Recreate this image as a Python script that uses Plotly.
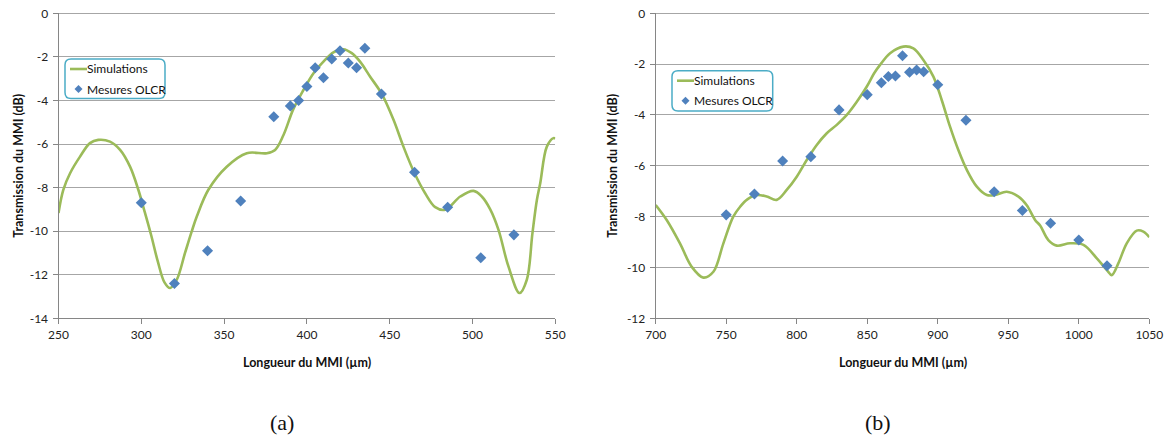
import plotly.graph_objects as go

W, H = 1169, 439

# ---------------- data: panel (a) ----------------
sim_a_x = [250, 252.9, 257, 263, 269, 274, 281.1, 287.2, 293.2, 298.2, 302, 306, 310, 314,
           317.4, 321.4, 326.4, 330.5, 333.5, 340.5, 351.6, 363.7, 375.8, 380.8, 385.8, 391.8,
           397.9, 404, 410, 416, 422, 427.1, 432.1, 438.2, 445.2, 452.3, 458.3, 464.8, 471.4,
           477.5, 483.5, 492.6, 500.6, 505.6, 510.7, 515.7, 521.7, 528.4, 532.8, 536.2, 538.9,
           540.9, 544.9, 548.9, 550]
sim_a_y = [-9.17, -8.1, -7.34, -6.58, -5.96, -5.81, -5.89, -6.27, -7.04, -8.1, -9.1, -10.2, -11.4,
           -12.35, -12.61, -12.23, -11.0, -10.0, -9.33, -8.1, -7.04, -6.42, -6.42, -6.27, -5.6,
           -4.4, -3.52, -2.75, -2.22, -1.79, -1.65, -1.83, -2.22, -2.91, -3.70, -4.89, -6.12,
           -7.31, -8.26, -8.90, -9.02, -8.41, -8.15, -8.41, -9.0, -9.94, -11.62, -12.84, -12.23,
           -10.09, -8.56, -7.8, -6.12, -5.73, -5.75]

mes_a_x = [300, 320, 340, 360, 380, 390, 395, 400, 405, 410, 415, 420, 425, 430, 435,
           445, 465, 485, 505, 525]
mes_a_y = [-8.7, -12.4, -10.9, -8.62, -4.75, -4.25, -4.0, -3.36, -2.5, -2.96, -2.1, -1.72,
           -2.28, -2.5, -1.6, -3.7, -7.3, -8.9, -11.22, -10.17]

# ---------------- data: panel (b) ----------------
sim_b_x = [700, 707.8, 717.2, 725.5, 733.8, 740.9, 748, 755, 760, 765, 771.6, 778.7, 785.8,
           792.9, 800, 807.1, 814.2, 821.3, 828.4, 835.5, 842.6, 849.6, 855, 859.1, 866.2, 875.6,
           882.7, 889.8, 896.9, 902.8, 908.7, 914.6, 920.6, 927.7, 934.8, 940.6, 948.9, 957.2,
           963.1, 969, 972.6, 978.4, 984.4, 993.8, 1003.3, 1012.8, 1019.9, 1023.4, 1028.1, 1034,
           1041.1, 1045.8, 1050]
sim_b_y = [-7.54, -8.13, -9.05, -9.97, -10.40, -10.17, -9.05, -8.0, -7.6, -7.32, -7.15, -7.21,
           -7.34, -6.95, -6.43, -5.77, -5.18, -4.72, -4.39, -4.0, -3.48, -2.89, -2.35, -2.03,
           -1.57, -1.31, -1.38, -1.84, -2.49, -3.41, -4.46, -5.38, -6.16, -6.82, -7.15, -7.15,
           -7.02, -7.21, -7.55, -8.13, -8.35, -8.92, -9.14, -9.05, -9.11, -9.64, -10.1, -10.3,
           -9.83, -9.05, -8.55, -8.59, -8.81]

mes_b_x = [750, 770, 790, 810, 830, 850, 860, 865, 870, 875, 880, 885, 890, 900, 920,
           940, 960, 980, 1000, 1020]
mes_b_y = [-7.93, -7.11, -5.81, -5.64, -3.8, -3.2, -2.73, -2.49, -2.47, -1.67, -2.32, -2.23,
           -2.3, -2.81, -4.21, -7.02, -7.76, -8.26, -8.92, -9.93]

# ---------------- ticks / labels ----------------
xticks_a = [250, 300, 350, 400, 450, 500, 550]
yticks_a = [0, -2, -4, -6, -8, -10, -12, -14]
xticks_b = [700, 750, 800, 850, 900, 950, 1000, 1050]
yticks_b = [0, -2, -4, -6, -8, -10, -12]

series_names = ["Simulations", "Mesures OLCR"]
y_title = "Transmission du MMI (dB)"
x_title = "Longueur du MMI (µm)"
panel_labels = ["(a)", "(b)"]

GREEN = "#9BBB59"
BLUE = "#4F81BD"
GRID = "#A6A6A6"
AXIS = "#868686"
LEGEND_BORDER = "#4BACC6"
FONT = "Lato"


def px(x):
    return x / W


def py(y):
    return 1 - y / H


# panel pixel boxes: left, right, top, bottom
box_a = (58.5, 555.3, 13.3, 318.3)
box_b = (655.7, 1149.3, 13.3, 318.3)

fig = go.Figure()

fig.add_trace(go.Scatter(x=sim_a_x, y=sim_a_y, mode="lines", name=series_names[0],
                         line=dict(color=GREEN, width=2.6, shape="spline", smoothing=1.0),
                         xaxis="x", yaxis="y", showlegend=False))
fig.add_trace(go.Scatter(x=mes_a_x, y=mes_a_y, mode="markers", name=series_names[1],
                         marker=dict(symbol="diamond", size=8.5, color=BLUE),
                         xaxis="x", yaxis="y", showlegend=False))
fig.add_trace(go.Scatter(x=sim_b_x, y=sim_b_y, mode="lines", name=series_names[0],
                         line=dict(color=GREEN, width=2.6, shape="spline", smoothing=1.0),
                         xaxis="x2", yaxis="y2", showlegend=False))
fig.add_trace(go.Scatter(x=mes_b_x, y=mes_b_y, mode="markers", name=series_names[1],
                         marker=dict(symbol="diamond", size=8.5, color=BLUE),
                         xaxis="x2", yaxis="y2", showlegend=False))

TICKFONT = dict(family=FONT, size=12, color="#222")


def xaxis_cfg(box, ticks, rng):
    return dict(domain=[px(box[0]), px(box[1])], range=rng, tickvals=ticks,
                ticktext=[str(t) for t in ticks], showgrid=False, zeroline=False,
                showline=True, linecolor=AXIS, linewidth=1, ticks="outside", ticklen=5,
                tickcolor=AXIS, tickfont=TICKFONT, fixedrange=True, automargin=False,
                ticklabeloverflow="allow")


def yaxis_cfg(box, ticks, rng, anchor):
    return dict(domain=[py(box[3]), py(box[2])], range=rng, tickvals=ticks,
                ticktext=[str(t) for t in ticks], showgrid=True, gridcolor=GRID, gridwidth=1,
                zeroline=True, zerolinecolor=GRID, zerolinewidth=1,
                showline=True, linecolor=AXIS, linewidth=1, ticks="outside", ticklen=5,
                tickcolor=AXIS, tickfont=TICKFONT, ticklabelstandoff=2,
                anchor=anchor, fixedrange=True, automargin=False,
                ticklabeloverflow="allow")


fig.update_layout(
    width=W, height=H,
    margin=dict(l=0, r=0, t=0, b=0),
    paper_bgcolor="white", plot_bgcolor="white",
    xaxis=xaxis_cfg(box_a, xticks_a, [250, 550]) | dict(anchor="y"),
    yaxis=yaxis_cfg(box_a, yticks_a, [-14, 0], "x"),
    xaxis2=xaxis_cfg(box_b, xticks_b, [700, 1050]) | dict(anchor="y2"),
    yaxis2=yaxis_cfg(box_b, yticks_b, [-12, 0], "x2"),
    showlegend=False,
    hovermode=False,
)

annotations = []
shapes = []

for box, ytx_x, lab in [(box_a, 19, panel_labels[0]), (box_b, 613, panel_labels[1])]:
    cx = (box[0] + box[1]) / 2
    cy = (box[2] + box[3]) / 2
    annotations.append(dict(x=px(ytx_x), y=py(cy), xref="paper", yref="paper",
                            text="<b>%s</b>" % y_title, textangle=-90, showarrow=False,
                            font=dict(family=FONT, size=12.5, color="#111"),
                            xanchor="center", yanchor="middle"))
    annotations.append(dict(x=px(cx), y=py(362), xref="paper", yref="paper",
                            text="<b>%s</b>" % x_title, showarrow=False,
                            font=dict(family=FONT, size=12.5, color="#111"),
                            xanchor="center", yanchor="middle"))
    annotations.append(dict(x=px(cx - 25), y=py(422), xref="paper", yref="paper",
                            text=lab, showarrow=False, borderpad=0,
                            font=dict(family="Liberation Serif", size=22, color="#111"),
                            xanchor="center", yanchor="middle"))


def rounded_rect(x0, y0, x1, y1, r):
    def P(x, y):
        return "%f,%f" % (px(x), py(y))
    return ("M " + P(x0 + r, y0) + " L " + P(x1 - r, y0) + " Q " + P(x1, y0) + " " + P(x1, y0 + r) +
            " L " + P(x1, y1 - r) + " Q " + P(x1, y1) + " " + P(x1 - r, y1) +
            " L " + P(x0 + r, y1) + " Q " + P(x0, y1) + " " + P(x0, y1 - r) +
            " L " + P(x0, y0 + r) + " Q " + P(x0, y0) + " " + P(x0 + r, y0) + " Z")


def diamond(cx, cy, r):
    return ("M %f,%f L %f,%f L %f,%f L %f,%f Z" %
            (px(cx), py(cy - r), px(cx + r), py(cy), px(cx), py(cy + r), px(cx - r), py(cy)))


for (lx0, ly0, lx1, ly1) in [(65, 59, 165, 98.5), (672, 70.7, 772.7, 111)]:
    shapes.append(dict(type="path", xref="paper", yref="paper",
                       path=rounded_rect(lx0, ly0, lx1, ly1, 6),
                       line=dict(color=LEGEND_BORDER, width=1.5), fillcolor="white"))
    r1 = ly0 + 10
    r2 = ly0 + 30
    shapes.append(dict(type="line", xref="paper", yref="paper",
                       x0=px(lx0 + 5), x1=px(lx0 + 22), y0=py(r1), y1=py(r1),
                       line=dict(color=GREEN, width=2.6)))
    shapes.append(dict(type="path", xref="paper", yref="paper",
                       path=diamond(lx0 + 13.5, r2, 4), line=dict(width=0), fillcolor=BLUE))
    annotations.append(dict(x=px(lx0 + 22), y=py(r1), xref="paper", yref="paper",
                            text=series_names[0], showarrow=False, xanchor="left",
                            yanchor="middle", xshift=-2,
                            font=dict(family=FONT, size=12, color="#111")))
    annotations.append(dict(x=px(lx0 + 22), y=py(r2), xref="paper", yref="paper",
                            text=series_names[1], showarrow=False, xanchor="left",
                            yanchor="middle", xshift=-2,
                            font=dict(family=FONT, size=12, color="#111")))

fig.update_layout(annotations=annotations, shapes=shapes)

fig.write_html("out.html",
               config={"displayModeBar": False},
               post_script="document.body.style.margin='0';document.body.style.overflow='hidden';")
